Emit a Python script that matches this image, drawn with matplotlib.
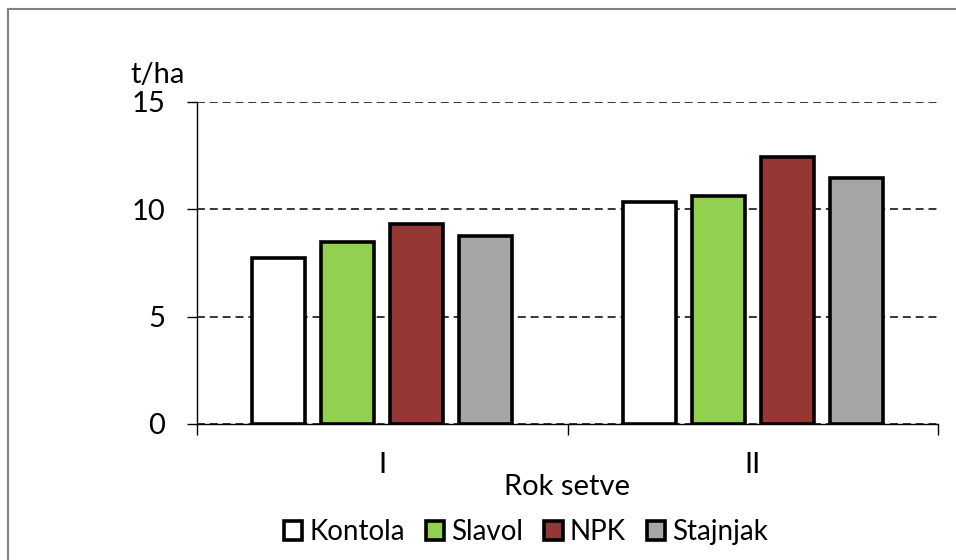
import matplotlib
matplotlib.use("Agg")
import matplotlib.pyplot as plt
from matplotlib.lines import Line2D
import numpy as np

categories = ["I", "II"]
series = ["Kontola", "Slavol", "NPK", "Stajnjak"]
kontola = [7.73, 10.34]
slavol = [8.48, 10.62]
npk = [9.32, 12.44]
stajnjak = [8.76, 11.46]
colors = ["#FFFFFF", "#92D050", "#953735", "#A6A6A6"]

plt.rcParams['font.family'] = ['Lato', 'DejaVu Sans']
FS = 21

fig = plt.figure(figsize=(9.56, 5.6), dpi=100)
ax = fig.add_axes([197/956, 1-424/560, (938-197)/956, (424-102)/560])

x = np.arange(len(categories))
width = 0.143
step = 0.1865
vals = [kontola, slavol, npk, stajnjak]
for i, (name, v, c) in enumerate(zip(series, vals, colors)):
    ax.bar(x + (i - 1.5) * step, v, width, color=c, edgecolor="black",
           linewidth=2.6, label=name, zorder=3)

ax.set_xlim(-0.5, 1.5)
ax.set_ylim(0, 15)
ax.set_yticks([0, 5, 10, 15])
ax.set_xticks([-0.5, 0.5, 1.5])
ax.set_xticklabels([])
ax.set_xticks(x, minor=True)
ax.set_xticklabels(categories, minor=True)
ax.tick_params(axis="x", which="major", length=8, direction="out", width=1)
ax.tick_params(axis="x", which="minor", length=0, pad=20, labelsize=FS)
ax.tick_params(axis="y", length=7, width=1, pad=16, labelsize=FS)
ax.grid(axis="y", color="black", linestyle=(0, (5.2, 3.2)), linewidth=1.1, zorder=0)
for s in ["top", "right"]:
    ax.spines[s].set_visible(False)
ax.spines["left"].set_linewidth(1)
ax.spines["bottom"].set_linewidth(1)
ax.spines["bottom"].set_zorder(4)

ax.set_xlabel("Rok setve", fontsize=FS, labelpad=-3)
fig.text(158/956, 1-75/560, "t/ha", fontsize=FS, ha="center", va="center")

leg = fig.legend(loc="center", bbox_to_anchor=(526/956, 1-532/560), ncol=4,
                 frameon=False, fontsize=20, handlelength=0.66, handleheight=0.66,
                 handletextpad=0.26, columnspacing=0.76, borderaxespad=0)

fig.add_artist(Line2D([8/956, 8/956], [0, 1-9/560], color="#808080", linewidth=1.5,
                      transform=fig.transFigure))
fig.add_artist(Line2D([8/956, 1], [1-9/560, 1-9/560], color="#808080", linewidth=1.5,
                      transform=fig.transFigure))

fig.savefig("out.png", dpi=100)
